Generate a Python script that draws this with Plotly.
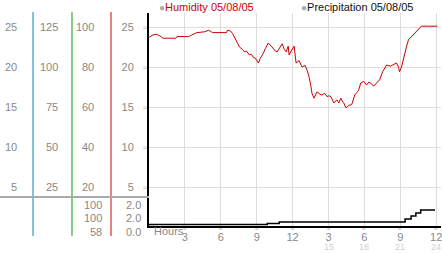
import plotly.graph_objects as go

# ---- data ----
hum_hours = [0, 0.33, 0.58, 0.91, 1.16, 1.74, 2.24, 2.33, 3.32, 3.57, 3.99, 4.65, 4.98, 5.32, 5.90,
             6.48, 6.56, 6.81, 6.98, 7.31, 7.56, 7.81, 7.97, 8.14, 8.39, 8.55, 8.72, 8.89, 9.05, 9.14,
             9.30, 9.55, 9.72, 9.97, 10.22, 10.38, 10.55, 10.71, 10.96, 11.13, 11.30, 11.46, 11.63,
             11.71, 11.88, 12.04, 12.13, 12.29, 12.54, 12.79, 13.04, 13.21, 13.37, 13.54, 13.62, 13.79,
             13.95, 14.04, 14.29, 14.45, 14.70, 14.87, 15.03, 15.20, 15.45, 15.70, 15.86, 16.03, 16.20,
             16.28, 16.45, 16.69, 16.94, 17.19, 17.36, 17.52, 17.69, 17.94, 18.19, 18.36, 18.52, 18.77,
             19.02, 19.27, 19.52, 19.68, 19.85, 20.18, 20.43, 20.68, 20.85, 20.93, 21.10, 21.26, 21.51,
             21.68, 21.93, 22.09, 22.34, 22.51, 22.76, 23.34, 24.09]
humidity = [23.7, 24.0, 24.1, 23.9, 23.6, 23.6, 23.6, 23.8, 23.8, 24.0, 24.3, 24.4, 24.6, 24.3, 24.3,
            24.3, 24.6, 24.5, 24.2, 23.3, 22.5, 22.2, 21.9, 22.0, 21.5, 21.6, 21.2, 21.1, 20.7, 20.5,
            21.1, 21.7, 22.3, 23.0, 22.6, 22.3, 22.0, 21.9, 22.5, 22.9, 22.2, 21.9, 22.6,
            21.5, 22.0, 22.5, 22.6, 20.5, 20.8, 20.0, 20.2, 19.6, 18.8, 17.5, 16.7, 16.1,
            16.5, 16.9, 16.6, 16.5, 16.7, 16.3, 16.4, 16.3, 15.5, 15.9, 15.5, 16.1, 15.6,
            15.5, 14.9, 15.2, 15.3, 16.5, 16.8, 17.1, 18.0, 18.2, 17.75, 18.1, 18.0, 17.6,
            18.0, 18.4, 19.4, 19.9, 20.25, 20.1, 20.25, 20.5, 20.0, 19.4, 20.0, 21.1, 22.5,
            23.4, 23.8, 24.0, 24.4, 24.8, 25.1, 25.1, 25.1]

precip_hours = [0, 9.88, 10.88, 21.4, 21.9, 22.3, 22.7, 23.9]
precip = [0, 0.08, 0.18, 0.4, 0.62, 0.84, 1.05, 1.05]

row_vals = [25, 20, 15, 10, 5]
col1 = ["25", "20", "15", "10", "5"]
col2 = ["125", "100", "75", "50", "25"]
col3 = ["100", "80", "60", "40", "20"]
col4 = ["25", "20", "15", "10", "5"]
extra3 = ["100", "100", "58"]
extra4 = ["2.0", "2.0", "0.0"]

x_tickvals = [3, 6, 9, 12, 15, 18, 21, 24]
x_top = ["3", "6", "9", "12", "3", "6", "9", "12"]
x_bottom = ["", "", "", "", "15", "18", "21", "24"]

hum_name = "Humidity 05/08/05"
precip_name = "Precipitation 05/08/05"

# ---- layout geometry (pixels) ----
W, H = 442, 253
L, R, T, B = 149, 1, 13, 27
PW = W - L - R
PH = H - T - B

def px(x):
    return (x - L) / PW

def py(y):
    return (H - B - y) / PH

FONT = "Liberation Sans, Arial, sans-serif"
GRAY = "#888888"
MARKC = "#aaaaaa"

fig = go.Figure()
fig.add_trace(go.Scatter(x=hum_hours, y=humidity, mode="lines",
                         line=dict(color="#cc0000", width=1), name=hum_name,
                         showlegend=False, hoverinfo="skip"))
fig.add_trace(go.Scatter(x=precip_hours, y=precip, mode="lines", line_shape="hv",
                         line=dict(color="#000000", width=1.5), name=precip_name,
                         yaxis="y2", showlegend=False, hoverinfo="skip"))

fig.update_layout(
    width=W, height=H,
    margin=dict(l=L, r=R, t=T, b=B, pad=0, autoexpand=False),
    paper_bgcolor="white", plot_bgcolor="white",
    font=dict(family=FONT, size=11, color=GRAY),
    xaxis=dict(range=[0, 24.4], tickvals=x_tickvals, ticktext=x_top,
               showgrid=True, gridcolor="#dddddd", gridwidth=1,
               showline=True, linecolor="black", linewidth=2,
               ticks="", zeroline=False, tickfont=dict(size=11, color=GRAY),
               ticklabelstandoff=0, automargin=False, ticklabeloverflow="allow"),
    yaxis=dict(range=[0.125, 26.75], tickvals=row_vals, ticktext=col4,
               showgrid=True, gridcolor="#dddddd", gridwidth=1,
               showline=True, linecolor="black", linewidth=2,
               ticks="", zeroline=False, tickfont=dict(size=11, color=GRAY),
               ticklabelstandoff=11, automargin=False),
    yaxis2=dict(range=[-0.11, 15.4], overlaying="y", visible=False),
)

shapes = []
for xpix, col in [(33, "#3399cc"), (72, "#33aa33"), (111, "#cc3333")]:
    shapes.append(dict(type="line", xref="paper", yref="paper",
                       x0=px(xpix), x1=px(xpix), y0=py(12), y1=py(236),
                       line=dict(color=col, width=1.2)))
shapes.append(dict(type="line", xref="paper", yref="paper",
                   x0=px(0), x1=px(149), y0=py(197), y1=py(197),
                   line=dict(color="#aaaaaa", width=2)))
fig.update_layout(shapes=shapes)

ann = []
for v, a, b, c in zip(row_vals, col1, col2, col3):
    for xp, t in [(19, a), (60, b), (96, c)]:
        ann.append(dict(x=px(xp), y=v, xref="paper", yref="y", text=t, showarrow=False,
                        xanchor="right", yanchor="middle", font=dict(color=GRAY, size=11)))
    ann.append(dict(x=px(145), y=v, xref="paper", yref="y", text="≈", showarrow=False,
                    xanchor="center", yanchor="middle", font=dict(color=MARKC, size=7)))
for ypix, a, b in zip([205, 218, 232], extra3, extra4):
    ann.append(dict(x=px(104), y=py(ypix), xref="paper", yref="paper", text=a, showarrow=False,
                    xanchor="right", yanchor="middle", font=dict(color=GRAY, size=11)))
    ann.append(dict(x=px(143), y=py(ypix), xref="paper", yref="paper", text=b, showarrow=False,
                    xanchor="right", yanchor="middle", font=dict(color=GRAY, size=11)))
for xv, bt in zip(x_tickvals, x_bottom):
    ann.append(dict(x=xv, y=py(229), xref="x", yref="paper", text="≈", showarrow=False,
                    xanchor="center", yanchor="middle", font=dict(color=MARKC, size=6)))
    if bt:
        ann.append(dict(x=xv, y=py(247), xref="x", yref="paper", text=bt, showarrow=False,
                        xanchor="center", yanchor="middle", font=dict(color="#d0d0d0", size=9)))
ann.append(dict(x=px(152), y=py(231), xref="paper", yref="paper", text="Hours", showarrow=False,
                xanchor="left", yanchor="middle", font=dict(color=GRAY, size=11)))
ann.append(dict(x=px(157), y=py(7), xref="paper", yref="paper",
                text="<span style='color:#aaaaaa;font-size:10px'>●</span>" + hum_name,
                showarrow=False, xanchor="left", yanchor="middle",
                font=dict(color="#cc0000", size=11)))
ann.append(dict(x=px(299), y=py(7), xref="paper", yref="paper",
                text="<span style='color:#aaaaaa;font-size:10px'>●</span>" + precip_name,
                showarrow=False, xanchor="left", yanchor="middle",
                font=dict(color="#111111", size=11)))
fig.update_layout(annotations=ann)

fig.write_html("out.html")
